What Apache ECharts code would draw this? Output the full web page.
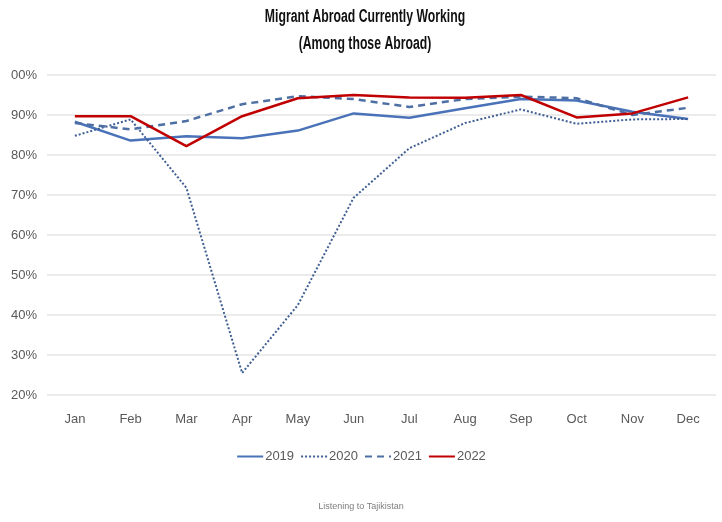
<!DOCTYPE html>
<html>
<head>
<meta charset="utf-8">
<script src="https://cdn.jsdelivr.net/npm/echarts@6/dist/echarts.min.js"></script>
<style>
  html, body { margin: 0; padding: 0; background: #fff; }
  #chart { width: 722px; height: 522px; }
</style>
</head>
<body>
<div id="chart"></div>
<script>
// Share of migrants abroad who are currently working, by month
const months = ['Jan', 'Feb', 'Mar', 'Apr', 'May', 'Jun', 'Jul', 'Aug', 'Sep', 'Oct', 'Nov', 'Dec'];
const y2019 = [88.3, 83.6, 84.7, 84.2, 86.1, 90.4, 89.3, 91.7, 94.0, 93.6, 90.8, 89.0];
const y2020 = [84.8, 88.9, 71.8, 25.5, 42.5, 69.3, 81.7, 88.0, 91.4, 87.8, 88.9, 89.0];
const y2021 = [88.0, 86.4, 88.5, 92.7, 94.7, 94.0, 92.0, 94.0, 94.6, 94.2, 90.0, 91.8];
const y2022 = [89.7, 89.7, 82.2, 89.7, 94.2, 95.0, 94.4, 94.3, 95.0, 89.4, 90.4, 94.4];
const yearNames = ['2019', '2020', '2021', '2022'];
const titleLines = ['Migrant Abroad Currently Working', '(Among those Abroad)'];

const font = '"Liberation Sans", Arial, sans-serif';

const styles = [
  { color: '#4a72b8', type: 'solid', width: 2.5 },
  { color: '#3f5f93', type: [2, 2], width: 2 },
  { color: '#4d6fa3', type: [7, 5], width: 2.5 },
  { color: '#c00000', type: 'solid', width: 2.5 }
];
const seriesData = [y2019, y2020, y2021, y2022];

// Narrow bold title: horizontally condensed text lines
const titleGraphics = titleLines.map((line, i) => ({
  type: 'text',
  x: 365,
  y: 17 + i * 27,
  scaleX: 0.68,
  z: 10,
  style: {
    text: line,
    fontFamily: font,
    fontSize: 18,
    fontWeight: 'bold',
    fill: '#111111',
    textAlign: 'center',
    textVerticalAlign: 'middle'
  }
}));

const chart = echarts.init(document.getElementById('chart'), null, { renderer: 'canvas' });
chart.setOption({
  backgroundColor: '#ffffff',
  animation: false,
  textStyle: { fontFamily: font },
  legend: {
    data: yearNames,
    top: 445,
    left: 'center',
    itemWidth: 26,
    itemHeight: 10,
    itemGap: 6,
    itemStyle: { opacity: 0 },
    textStyle: { fontFamily: font, fontSize: 13, color: '#595959', padding: [0, 0, 0, -3] }
  },
  graphic: titleGraphics.concat([{
    type: 'text',
    x: 361,
    y: 507,
    style: {
      text: 'Listening to Tajikistan', fontFamily: font, fontSize: 9, fill: '#7f7f7f',
      textAlign: 'center', textVerticalAlign: 'middle'
    }
  }]),
  grid: { left: 47, right: 6, top: 75, height: 320 },
  xAxis: {
    type: 'category',
    data: months,
    boundaryGap: true,
    axisLine: { show: false },
    axisTick: { show: false },
    axisLabel: { fontFamily: font, fontSize: 13, color: '#595959', margin: 18 }
  },
  yAxis: {
    type: 'value',
    min: 20,
    max: 100,
    interval: 10,
    axisLine: { show: false },
    axisTick: { show: false },
    splitLine: { lineStyle: { color: '#e4e4e4', width: 1.5 } },
    axisLabel: {
      fontFamily: font, fontSize: 13, color: '#595959', margin: 10,
      formatter: v => (v === 100 ? '00%' : v + '%')
    }
  },
  series: yearNames.map((name, i) => ({
    name: name,
    type: 'line',
    data: seriesData[i],
    symbol: 'none',
    lineStyle: styles[i],
    itemStyle: { color: styles[i].color },
    z: i === 3 ? 5 : 3
  }))
});
</script>
</body>
</html>
